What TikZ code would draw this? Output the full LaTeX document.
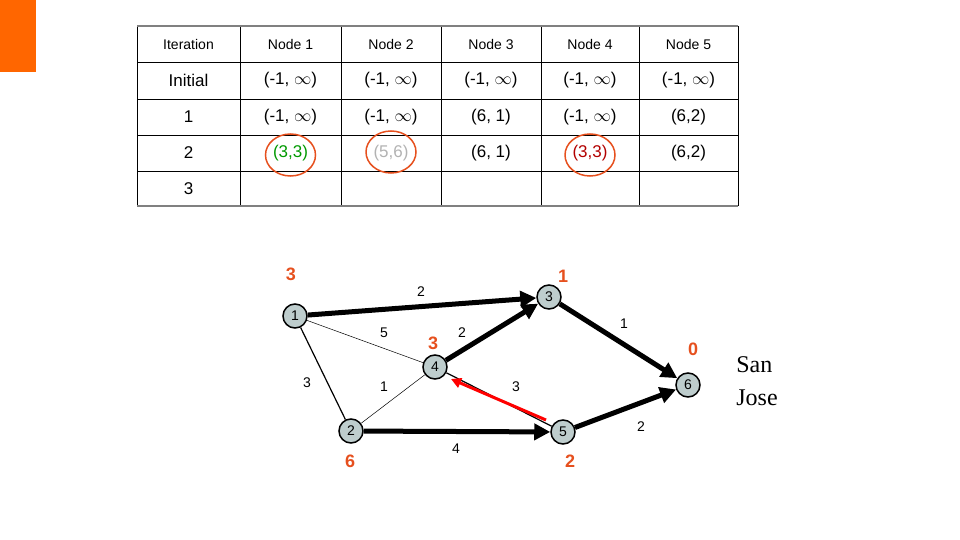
\documentclass[tikz,border=0pt]{standalone}
\usepackage{fontspec}
\setmainfont{Liberation Sans}
\newfontfamily\serif{Liberation Serif}
\usetikzlibrary{arrows.meta}
\definecolor{nodefill}{RGB}{190,205,205}
\definecolor{orng}{RGB}{230,80,30}
\definecolor{bar}{RGB}{255,102,0}
\begin{document}
\begin{tikzpicture}[x=1pt,y=-1pt,
  gn/.style={circle,draw=black,line width=1.5pt,fill=nodefill,minimum size=24pt,inner sep=0pt,font=\fontsize{14}{14}\selectfont},
  dist/.style={text=orng,font=\bfseries\fontsize{18}{18}\selectfont},
  wl/.style={font=\fontsize{14}{14}\selectfont},
  heavy/.style={line width=5pt,-{Triangle[length=16pt,width=16pt]}},
  cell/.style={font=\fontsize{17}{17}\selectfont},
  hcell/.style={font=\fontsize{14}{14}\selectfont},
  ring/.style={draw=orng,line width=1.5pt,ellipse,minimum width=50pt,minimum height=42pt}]
\useasboundingbox (0,0) rectangle (960,540);
\fill[bar] (0,0) rectangle (36,72);
% table
\foreach \x in {137,240,341,441,541,639,738} \draw[line width=0.8pt] (\x,26) -- (\x,206);
\foreach \y in {62,99,135,171} \draw[line width=0.8pt] (137,\y) -- (738,\y);
\draw[line width=2pt,gray] (137,26) -- (738,26);
\draw[line width=2pt,gray] (137,206) -- (738,206);
\node[hcell] (h0) at (188.5,44) {Iteration};
\node[hcell] (h1) at (290.5,44) {Node 1};
\node[hcell] (h2) at (391,44) {Node 2};
\node[hcell] (h3) at (491,44) {Node 3};
\node[hcell] (h4) at (590,44) {Node 4};
\node[hcell] (h5) at (688.5,44) {Node 5};
\node[cell] (r0) at (188.5,80.5) {Initial};
\foreach \x/\n in {290.5/a,391/b,491/c,590/d,688.5/e} \node[cell] (i\n) at (\x,80.5) {(-1, $\infty$)};
\node[cell] (r1) at (188.5,117) {1};
\node[cell] (p1) at (290.5,117) {(-1, $\infty$)};
\node[cell] (p2) at (391,117) {(-1, $\infty$)};
\node[cell] (p3) at (491,117) {(6, 1)};
\node[cell] (p4) at (590,117) {(-1, $\infty$)};
\node[cell] (p5) at (688.5,117) {(6,2)};
\node[cell] (r2) at (188.5,153) {2};
\node[cell,text=green!60!black] (q1) at (290.5,153) {(3,3)};
\node[cell,text=gray!60] (q2) at (391,153) {(5,6)};
\node[cell] (q3) at (491,153) {(6, 1)};
\node[cell,text=red!70!black] (q4) at (590,153) {(3,3)};
\node[cell] (q5) at (688.5,153) {(6,2)};
\node[cell] (r3) at (188.5,189) {3};
\draw[orng,line width=1.5pt] (290.5,155) ellipse (25 and 21);
\draw[orng,line width=1.5pt] (391,152) ellipse (25 and 21);
\draw[orng,line width=1.5pt] (590,155) ellipse (25 and 21);
% graph
\node[gn] (n1) at (295,316) {1};
\node[gn] (n3) at (549,297) {3};
\node[gn] (n4) at (435,367) {4};
\node[gn] (n6) at (688,385) {6};
\node[gn] (n2) at (351,431) {2};
\node[gn] (n5) at (563,432) {5};
\begin{scope}[on background layer/.style={}]
\draw[line width=0.5pt] (n1) -- (n4);
\draw[line width=0.5pt] (n4) -- (n2);
\draw[line width=1.2pt] (n1) -- (n2);
\draw[line width=1.2pt] (n5) -- (n4);
\draw[heavy] (n1) -- (n3);
\draw[heavy] (n3) -- (n6);
\draw[heavy] (n4) -- (n3);
\draw[heavy] (n2) -- (n5);
\draw[heavy] (n5) -- (n6);
\end{scope}
\coordinate (rs) at (546,420);
\coordinate (re) at (451,379);
\draw[red,line width=3pt,-{Triangle[length=10pt,width=10pt]}] (rs) -- (re);
\node[dist] (d1) at (291,274) {3};
\node[dist] (d3) at (563,276) {1};
\node[dist] (d4) at (433,343) {3};
\node[dist] (d6) at (693,349) {0};
\node[dist] (d2) at (350,461) {6};
\node[dist] (d5) at (570,461) {2};
\node[wl] (w13) at (421,292) {2};
\node[wl] (w14) at (384,333) {5};
\node[wl] (w43) at (462,333) {2};
\node[wl] (w36) at (624,324) {1};
\node[wl] (w12) at (307,383) {3};
\node[wl] (w42) at (384,387) {1};
\node[wl] (w54) at (516,387) {3};
\node[wl] (w25) at (456,449) {4};
\node[wl] (w56) at (641,427) {2};
\node[align=left,font=\serif\fontsize{24}{33}\selectfont] (sj) at (757,381) {San\\Jose};
\end{tikzpicture}
\end{document}
